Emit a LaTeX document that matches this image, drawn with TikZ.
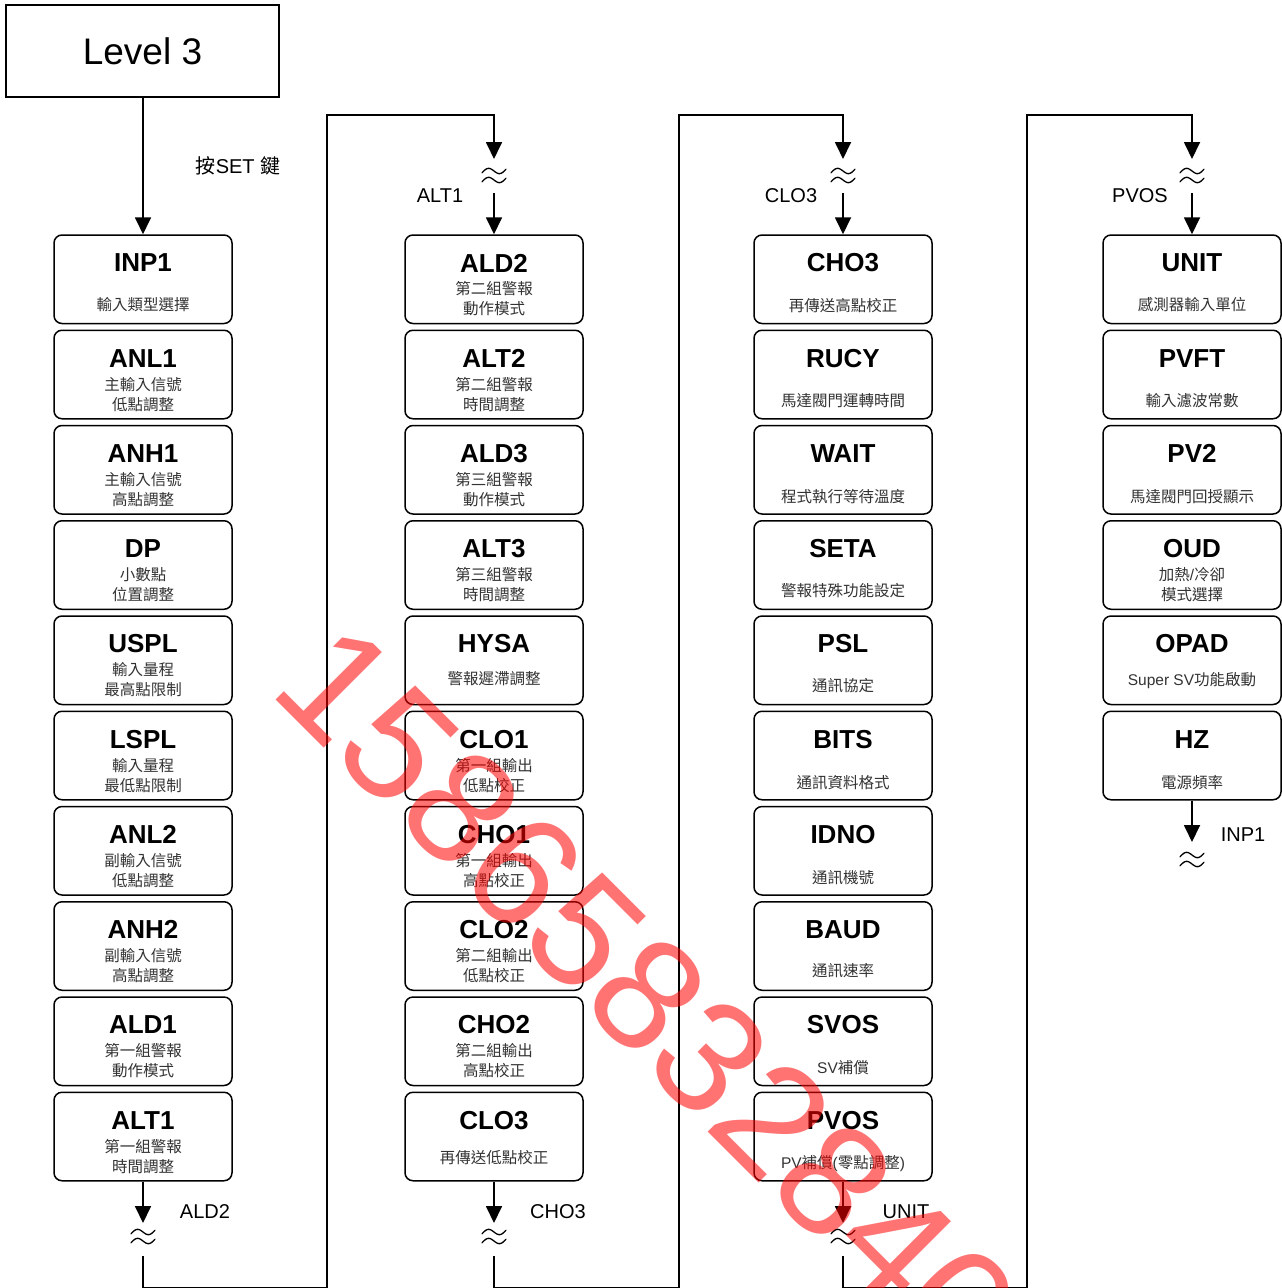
\documentclass[tikz,border=0pt]{standalone}
\usepackage{fontspec}
\setmainfont{Liberation Sans}
\newfontfamily\cjk{Noto Sans CJK TC}
\usetikzlibrary{arrows.meta}
\newcommand\zh[1]{{\cjk #1}}
\newcommand\latn[1]{{\normalfont #1}}
\newcommand\boxA[6]{%
  \pgfmathsetmacro\tp{235+95.25*#3}%
  \node[bx] (#1) at (#2,\tp+44.25) {};
  \node[ttl] (#1t) at (#2,\tp+28) {#4};
  \node[sub] (#1s) at (#2,\tp+#6) {#5};
}
\newcommand\boxB[6]{%
  \pgfmathsetmacro\tp{235+95.25*#3}%
  \node[bx] (#1) at (#2,\tp+44.25) {};
  \node[ttl] (#1t) at (#2,\tp+28) {#4};
  \node[sub] (#1s) at (#2,\tp+54) {#5};
  \node[sub] (#1u) at (#2,\tp+74) {#6};
}
\tikzset{brk/.pic={\foreach \o in {0,9}{\draw[line width=1.3pt, line cap=round] plot[domain=-12:12, samples=31, smooth, variable=\t] ({\t},{\o+3.5*sin(15*\t)-0.15*\t});}}}
\begin{document}
\begin{tikzpicture}[x=1pt,y=-1pt,
  bx/.style={draw, line width=1.5pt, rounded corners=8pt, minimum width=178pt, minimum height=88.5pt, inner sep=0pt},
  ttl/.style={font=\fontsize{26}{30}\selectfont\bfseries, inner sep=0pt},
  sub/.style={font=\fontsize{15.5}{18}\selectfont\cjk, text=black!80, inner sep=0pt},
  lbl/.style={font=\fontsize{20}{24}\selectfont, inner sep=0pt},
  con/.style={line width=1.8pt},
  arr/.style={con, -{Triangle[width=16pt,length=17pt]}}]
\useasboundingbox (0,0) rectangle (1282,1288);
\clip (0,0) rectangle (1282,1288);
\fill[white] (0,0) rectangle (1282,1288);

\node[draw, line width=1.5pt, minimum width=273pt, minimum height=92pt, font=\fontsize{37}{40}\selectfont, inner sep=0pt] (lvl) at (142.5,51) {Level 3};

% column 1
\boxA{a0}{143}{0}{INP1}{輸入類型選擇}{70}
\boxB{a1}{143}{1}{ANL1}{主輸入信號}{低點調整}
\boxB{a2}{143}{2}{ANH1}{主輸入信號}{高點調整}
\boxB{a3}{143}{3}{DP}{小數點}{位置調整}
\boxB{a4}{143}{4}{USPL}{輸入量程}{最高點限制}
\boxB{a5}{143}{5}{LSPL}{輸入量程}{最低點限制}
\boxB{a6}{143}{6}{ANL2}{副輸入信號}{低點調整}
\boxB{a7}{143}{7}{ANH2}{副輸入信號}{高點調整}
\boxB{a8}{143}{8}{ALD1}{第一組警報}{動作模式}
\boxB{a9}{143}{9}{ALT1}{第一組警報}{時間調整}
% column 2
\boxB{b0}{494}{0}{ALD2}{第二組警報}{動作模式}
\boxB{b1}{494}{1}{ALT2}{第二組警報}{時間調整}
\boxB{b2}{494}{2}{ALD3}{第三組警報}{動作模式}
\boxB{b3}{494}{3}{ALT3}{第三組警報}{時間調整}
\boxA{b4}{494}{4}{HYSA}{警報遲滯調整}{63}
\boxB{b5}{494}{5}{CLO1}{第一組輸出}{低點校正}
\boxB{b6}{494}{6}{CHO1}{第一組輸出}{高點校正}
\boxB{b7}{494}{7}{CLO2}{第二組輸出}{低點校正}
\boxB{b8}{494}{8}{CHO2}{第二組輸出}{高點校正}
\boxA{b9}{494}{9}{CLO3}{再傳送低點校正}{65}
% column 3
\boxA{c0}{843}{0}{CHO3}{再傳送高點校正}{71}
\boxA{c1}{843}{1}{RUCY}{馬達閥門運轉時間}{70}
\boxA{c2}{843}{2}{WAIT}{程式執行等待溫度}{71}
\boxA{c3}{843}{3}{SETA}{警報特殊功能設定}{70}
\boxA{c4}{843}{4}{PSL}{通訊協定}{70}
\boxA{c5}{843}{5}{BITS}{通訊資料格式}{71}
\boxA{c6}{843}{6}{IDNO}{通訊機號}{71}
\boxA{c7}{843}{7}{BAUD}{通訊速率}{69}
\boxA{c8}{843}{8}{SVOS}{\latn{SV}補償}{71}
\boxA{c9}{843}{9}{PVOS}{\latn{PV}補償\latn{(}零點調整\latn{)}}{71}
% column 4
\boxA{d0}{1192}{0}{UNIT}{感測器輸入單位}{70}
\boxA{d1}{1192}{1}{PVFT}{輸入濾波常數}{70}
\boxA{d2}{1192}{2}{PV2}{馬達閥門回授顯示}{71}
\boxB{d3}{1192}{3}{OUD}{加熱\latn{/}冷卻}{模式選擇}
\boxA{d4}{1192}{4}{OPAD}{\latn{Super SV}功能啟動}{65}
\boxA{d5}{1192}{5}{HZ}{電源頻率}{71}

% start
\draw[arr] (lvl.south -| a0.north) -- (a0.north);
\node[lbl] (set) at (238,166) {\zh{按}SET \zh{鍵}};

% column 1 -> 2
\coordinate (a9tip) at (143,1223);
\draw[arr] (a9.south) -- (a9tip);
\pic at (143,1232) {brk};
\node[lbl] (la9) at (205,1212) {ALD2};
\coordinate (a9cont) at (143,1256);
\coordinate (p1a) at (143,1288);
\coordinate (p1b) at (327,1288);
\coordinate (p1c) at (327,115);
\coordinate (p1d) at (494,115);
\coordinate (b0tip) at (494,159);
\draw[arr] (a9cont) -- (p1a) -- (p1b) -- (p1c) -- (p1d) -- (b0tip);
\pic at (494,171) {brk};
\node[lbl] (lb0) at (440,196) {ALT1};
\coordinate (b0cont) at (494,193);
\draw[arr] (b0cont) -- (b0.north);

% column 2 -> 3
\coordinate (b9tip) at (494,1223);
\draw[arr] (b9.south) -- (b9tip);
\pic at (494,1232) {brk};
\node[lbl] (lb9) at (558,1212) {CHO3};
\coordinate (b9cont) at (494,1256);
\coordinate (p2a) at (494,1288);
\coordinate (p2b) at (679,1288);
\coordinate (p2c) at (679,115);
\coordinate (p2d) at (843,115);
\coordinate (c0tip) at (843,159);
\draw[arr] (b9cont) -- (p2a) -- (p2b) -- (p2c) -- (p2d) -- (c0tip);
\pic at (843,171) {brk};
\node[lbl] (lc0) at (791,196) {CLO3};
\coordinate (c0cont) at (843,193);
\draw[arr] (c0cont) -- (c0.north);

% column 3 -> 4
\coordinate (c9tip) at (843,1223);
\draw[arr] (c9.south) -- (c9tip);
\pic at (843,1232) {brk};
\node[lbl] (lc9) at (906,1212) {UNIT};
\coordinate (c9cont) at (843,1256);
\coordinate (p3a) at (843,1288);
\coordinate (p3b) at (1027,1288);
\coordinate (p3c) at (1027,115);
\coordinate (p3d) at (1192,115);
\coordinate (d0tip) at (1192,159);
\draw[arr] (c9cont) -- (p3a) -- (p3b) -- (p3c) -- (p3d) -- (d0tip);
\pic at (1192,171) {brk};
\node[lbl] (ld0) at (1140,196) {PVOS};
\coordinate (d0cont) at (1192,193);
\draw[arr] (d0cont) -- (d0.north);

% column 4 end
\coordinate (d5tip) at (1192,842);
\draw[arr] (d5.south) -- (d5tip);
\pic at (1192,855) {brk};
\node[lbl] (ld5) at (1243,835) {INP1};

% watermark
\node[font=\fontsize{158}{180}\selectfont, text=red, text opacity=0.55, rotate=-45, inner sep=0pt] (wm) at (648,995) {15865832840};
\end{tikzpicture}
\end{document}
